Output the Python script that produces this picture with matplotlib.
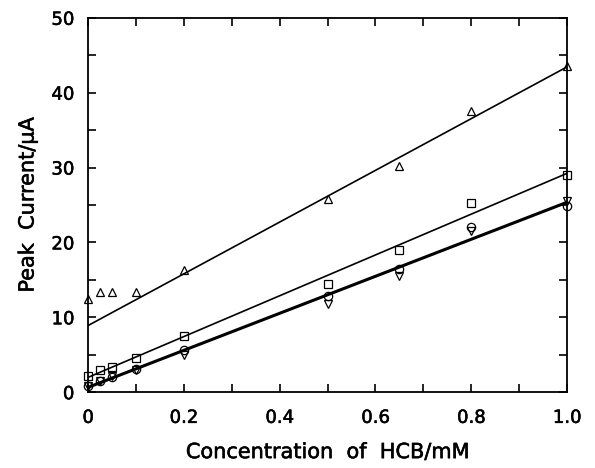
import matplotlib
matplotlib.use("Agg")
import matplotlib.pyplot as plt
import matplotlib.patheffects as pe
import numpy as np
from matplotlib.ticker import MultipleLocator

plt.rcParams['font.family'] = ['DejaVu Sans']

conc = [0, 0.025, 0.05, 0.1, 0.2, 0.5, 0.65, 0.8, 1.0]
tri_up = [12.5, 13.4, 13.4, 13.4, 16.3, 25.8, 30.2, 37.5, 43.5]
square = [2.2, 3.0, 3.4, 4.5, 7.5, 14.5, 19.0, 25.3, 29.0]
circle = [0.8, 1.5, 2.0, 3.1, 5.7, 12.8, 16.5, 22.0, 24.8]
tri_down = [0.8, 1.5, 2.2, 3.0, 5.0, 11.8, 15.5, 21.5, 25.5]

fig = plt.figure(figsize=(5.95, 4.68), dpi=100)
ax = fig.add_axes([0.148, 0.162, 0.805, 0.8])

mk = dict(linestyle='none', markerfacecolor='none', markeredgecolor='black',
          markeredgewidth=0.9, markersize=6, clip_on=False, zorder=3)
ax.plot(conc, tri_up, marker='^', **mk)
ax.plot(conc, square, marker='s', **mk)
ax.plot(conc, circle, marker='o', **mk)
ax.plot(conc, tri_down, marker='v', **mk)

xs = np.array([0.0, 1.0])
# triangle line fitted on the linear part (0.2 mM and above)
k, b = np.polyfit(conc[4:], tri_up[4:], 1)
ax.plot(xs, k * xs + b, color='black', lw=1.2, zorder=2)
k, b = np.polyfit(conc, square, 1)
ax.plot(xs, k * xs + b, color='black', lw=1.2, zorder=2)
k, b = np.polyfit(conc + conc, circle + tri_down, 1)
ax.plot(xs, k * xs + b, color='black', lw=2.2, zorder=2)

ax.set_xlim(0, 1.0)
ax.set_ylim(0, 50)
ax.xaxis.set_minor_locator(MultipleLocator(0.1))
ax.yaxis.set_major_locator(MultipleLocator(10))
ax.yaxis.set_minor_locator(MultipleLocator(5))
ax.set_xticks([0, 0.2, 0.4, 0.6, 0.8, 1.0])
ax.set_xticklabels(['0', '0.2', '0.4', '0.6', '0.8', '1.0'])
ax.tick_params(which='both', direction='in', top=True, right=True, labelsize=13, width=1.2)
ax.tick_params(which='major', length=6)
ax.tick_params(which='minor', length=6)
ax.tick_params(axis='x', which='major', pad=12)
ax.tick_params(axis='y', which='major', pad=10)

heavy = [pe.withStroke(linewidth=0.4, foreground='black')]
for lab in ax.get_xticklabels() + ax.get_yticklabels():
    lab.set_path_effects(heavy)
for s in ax.spines.values():
    s.set_linewidth(1.3)

ax.set_xlabel('Concentration  of  HCB/mM', fontsize=15, labelpad=11, path_effects=heavy)
ax.set_ylabel('Peak  Current/μA', fontsize=15, labelpad=10, path_effects=heavy)

fig.savefig('out.png', dpi=100)
